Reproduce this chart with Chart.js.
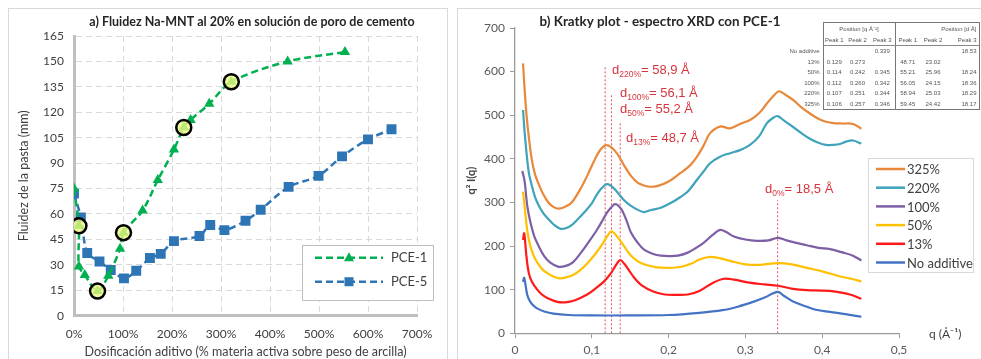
<!DOCTYPE html>
<html lang="es">
<head>
<meta charset="UTF-8">
<title>Fluidez Na-MNT / Kratky plot</title>
<script src="https://cdn.jsdelivr.net/npm/chart.js"></script>
<style>
  body { margin: 0; background: #fff; width: 981px; height: 359px; overflow: hidden; position: relative; font-family: Lato, sans-serif; }
  .panel { position: absolute; border: 1px solid #d9d9d9; box-sizing: border-box; }
  #panelA { left: 8px; top: 8px; width: 440px; height: 352px; }
  #panelB { left: 457px; top: 8px; width: 540px; height: 360px; }
  canvas { position: absolute; }
  #chartA { left: 8px; top: 8px; }
  #chartB { left: 457px; top: 8px; }
  #peaks { position: absolute; left: 781px; top: 22px; border-collapse: collapse; font: 6px "Liberation Sans", Arial, sans-serif; color: #555; table-layout: fixed; }
  #peaks td { padding: 0; height: 10.5px; text-align: center; white-space: nowrap; overflow: hidden; }
  #peaks td.lbl { text-align: right; padding-right: 3px; border: none; }
  #peaks tr.h1 td { height: 12px; }
  #peaks tr.h2 td { height: 10px; border-bottom: 1px solid #888; }
  #peaks td.c1 { border-left: 1.5px solid #777; }
  #peaks td.c4 { border-left: 1.5px solid #777; }
  #peaks td.c6 { border-right: 1.5px solid #777; text-align: right; padding-right: 2px; }
  #peaks tr.h1 td.c1, #peaks tr.h1 td.c4, #peaks tr.h1 td.c6 { border-top: 1.5px solid #777; }
  #peaks tr.last td.c1, #peaks tr.last td.c2, #peaks tr.last td.c3, #peaks tr.last td.c4, #peaks tr.last td.c5, #peaks tr.last td.c6 { border-bottom: 1.5px solid #777; }
</style>
</head>
<body>
<div class="panel" id="panelA"></div>
<div class="panel" id="panelB"></div>
<canvas id="chartA" width="440" height="351"></canvas>
<canvas id="chartB" width="524" height="351"></canvas>
<table id="peaks"></table>

<script>
// ---- a) Fluidez Na-MNT (mm) vs dosificación (%)
const pce1Dose = [0, 10, 10, 22, 48, 70, 94, 101, 140, 171, 204, 224, 238, 276, 321, 436, 553];
const pce1Flow = [75, 53, 29, 24, 14.5, 23.5, 39.5, 49, 62, 80, 98, 111, 115.5, 125, 138, 150, 155.5];
const pce5Dose = [0, 14, 27, 52, 75, 102, 127, 155, 177, 204, 256, 278, 307, 350, 381, 438, 499, 547, 600, 648];
const pce5Flow = [72, 58, 37, 32, 27, 22, 26.5, 34, 36.5, 44, 47, 53.5, 50.5, 56, 62.5, 76, 82.5, 94, 104, 110];
const markedDose = [10, 48, 101, 224, 321];
const markedFlow = [53, 14.5, 49, 111, 138];
const doseTicks = [0, 100, 200, 300, 400, 500, 600, 700];
const flowTicks = [0, 15, 30, 45, 60, 75, 90, 105, 120, 135, 150, 165];

// ---- b) Kratky plot q^2 I(q) vs q
const qNone = [0.0105, 0.012, 0.016, 0.02, 0.025, 0.03, 0.038, 0.05, 0.07, 0.1, 0.15, 0.2, 0.24, 0.27, 0.29, 0.31, 0.325, 0.342, 0.35, 0.362, 0.38, 0.392, 0.41, 0.43, 0.451];
const iNone = [118, 127, 88, 72, 62, 56, 50, 45, 42, 41, 41, 42, 47, 53, 61, 72, 82, 95, 86, 73, 61, 54, 49, 44, 38];
const q13 = [0.0105, 0.012, 0.015, 0.018, 0.022, 0.029, 0.035, 0.042, 0.055, 0.065, 0.075, 0.085, 0.095, 0.105, 0.116, 0.125, 0.131, 0.137, 0.142, 0.147, 0.155, 0.165, 0.18, 0.195, 0.21, 0.225, 0.24, 0.257, 0.272, 0.285, 0.305, 0.325, 0.342, 0.362, 0.38, 0.4, 0.415, 0.436, 0.451];
const i13 = [214, 229, 175, 138, 118, 100, 89, 81, 72, 71, 74, 81, 90, 103, 119, 138, 155, 168, 160, 148, 128, 110, 96, 89, 88, 89, 97, 115, 125, 123, 116, 112, 109, 102, 99, 98, 96, 89, 79];
const q50 = [0.0105, 0.0125, 0.016, 0.02, 0.025, 0.03, 0.036, 0.042, 0.05, 0.058, 0.066, 0.075, 0.085, 0.095, 0.105, 0.112, 0.12, 0.1257, 0.132, 0.14, 0.15, 0.16, 0.17, 0.185, 0.2, 0.215, 0.23, 0.24, 0.253, 0.265, 0.28, 0.3, 0.32, 0.342, 0.36, 0.38, 0.4, 0.42, 0.44, 0.451];
const i50 = [325, 292, 235, 200, 175, 160, 146, 138, 130, 126, 128, 133, 145, 162, 183, 200, 222, 234, 224, 205, 180, 165, 157, 151, 150, 152, 160, 169, 175, 173, 166, 158, 157, 161, 158, 150, 142, 132, 124, 119];
const q100 = [0.0095, 0.0105, 0.0126, 0.016, 0.02, 0.025, 0.03, 0.038, 0.046, 0.056, 0.065, 0.075, 0.086, 0.097, 0.107, 0.115, 0.12, 0.126, 0.13, 0.135, 0.14, 0.146, 0.151, 0.16, 0.168, 0.18, 0.19, 0.2, 0.212, 0.225, 0.235, 0.246, 0.257, 0.267, 0.275, 0.285, 0.3, 0.315, 0.33, 0.342, 0.352, 0.365, 0.38, 0.395, 0.41, 0.425, 0.44, 0.451];
const i100 = [372, 365, 348, 292, 255, 223, 203, 177, 162, 153, 154, 162, 185, 212, 238, 262, 277, 290, 296, 292, 280, 255, 231, 207, 192, 182, 178, 177, 178, 185, 195, 208, 225, 237, 232, 222, 215, 212, 213, 219, 214, 208, 202, 196, 193, 186, 178, 167];
const q220 = [0.0105, 0.0125, 0.0152, 0.018, 0.0217, 0.026, 0.0304, 0.037, 0.0434, 0.05, 0.0586, 0.066, 0.0738, 0.082, 0.09, 0.1, 0.107, 0.113, 0.1196, 0.126, 0.1335, 0.142, 0.151, 0.16, 0.168, 0.176, 0.19, 0.202, 0.215, 0.225, 0.237, 0.246, 0.254, 0.267, 0.28, 0.293, 0.306, 0.318, 0.328, 0.337, 0.342, 0.35, 0.362, 0.372, 0.384, 0.395, 0.405, 0.415, 0.423, 0.432, 0.44, 0.451];
const i220 = [512, 462, 410, 368, 340, 313, 295, 275, 262, 250, 240, 241, 248, 262, 277, 298, 319, 333, 342, 337, 323, 305, 292, 283, 278, 282, 288, 298, 312, 325, 352, 372, 390, 405, 413, 420, 432, 452, 482, 495, 498, 488, 473, 460, 446, 437, 432, 432, 434, 440, 442, 435];
const q325 = [0.0105, 0.0125, 0.0152, 0.018, 0.0217, 0.026, 0.0304, 0.037, 0.0434, 0.05, 0.0564, 0.064, 0.0738, 0.0868, 0.095, 0.103, 0.11, 0.118, 0.125, 0.1335, 0.142, 0.151, 0.16, 0.168, 0.176, 0.186, 0.2, 0.215, 0.228, 0.237, 0.246, 0.254, 0.267, 0.28, 0.293, 0.306, 0.318, 0.328, 0.337, 0.3435, 0.352, 0.362, 0.373, 0.384, 0.395, 0.405, 0.415, 0.427, 0.44, 0.451];
const i325 = [619, 560, 497, 450, 400, 365, 344, 318, 300, 290, 286, 289, 300, 336, 365, 395, 418, 431, 427, 411, 385, 361, 345, 339, 336, 338, 348, 367, 385, 405, 432, 459, 474, 470, 480, 489, 505, 527, 545, 555, 547, 535, 518, 504, 492, 485, 482, 481, 480, 469];
const peakQ = [0.1174, 0.1257, 0.137, 0.342];
const peakTop = [611, 546, 482, 305];
const qTicks = [0, 0.1, 0.2, 0.3, 0.4, 0.5];
const intTicks = [0, 100, 200, 300, 400, 500, 600, 700];

// table values
const peakRows = ['No additive', '13%', '50%', '100%', '220%', '325%'];
const qPeak1 = ['', '0.129', '0.114', '0.112', '0.107', '0.106'];
const qPeak2 = ['', '0.273', '0.242', '0.260', '0.251', '0.257'];
const qPeak3 = ['0.339', '', '0.345', '0.342', '0.344', '0.346'];
const dPeak1 = ['', '48.71', '55.21', '56.05', '58.94', '59.45'];
const dPeak2 = ['', '23.02', '25.96', '24.15', '25.03', '24.42'];
const dPeak3 = ['18.53', '', '18.24', '18.36', '18.29', '18.17'];

const pairs = (xs, ys) => xs.map((x, i) => ({ x: x, y: ys[i] }));
const useTicks = list => scale => { scale.ticks = list.map(v => ({ value: v })); };

const GREEN = '#00b050';
const BLUE = '#2e75b6';

// ---------- chart a ----------
const panelA = {
    id: 'panelA',
    afterDraw(chart) {
        const ctx = chart.ctx;
        ctx.save();
        ctx.fillStyle = '#262626';
        ctx.font = 'bold 12.5px Lato';
        ctx.textAlign = 'center';
        ctx.textBaseline = 'middle';
        ctx.fillText('a) Fluidez Na-MNT al 20% en solución de poro de cemento', 244, 14);

        // legend
        ctx.strokeStyle = '#bfbfbf';
        ctx.lineWidth = 1;
        ctx.fillStyle = '#fff';
        ctx.fillRect(294, 237, 131, 55);
        ctx.strokeRect(294.5, 237.5, 131, 55);
        const items = [['PCE-1', GREEN, 'tri', 249.7], ['PCE-5', BLUE, 'sq', 273.7]];
        items.forEach(([label, col, mk, y]) => {
            ctx.strokeStyle = col;
            ctx.lineWidth = 2.5;
            ctx.setLineDash([7, 4]);
            ctx.beginPath();
            ctx.moveTo(307, y);
            ctx.lineTo(375, y);
            ctx.stroke();
            ctx.setLineDash([]);
            ctx.fillStyle = col;
            ctx.beginPath();
            if (mk === 'tri') {
                ctx.moveTo(341, y - 5.5);
                ctx.lineTo(346, y + 3.5);
                ctx.lineTo(336, y + 3.5);
                ctx.closePath();
            } else {
                ctx.rect(336.5, y - 4.5, 9, 9);
            }
            ctx.fill();
            ctx.fillStyle = '#404040';
            ctx.font = '13px Lato';
            ctx.textAlign = 'left';
            ctx.fillText(label, 383, y);
        });
        ctx.restore();
    }
};

new Chart(document.getElementById('chartA'), {
    type: 'line',
    data: {
        datasets: [{
            label: 'marcados',
            data: pairs(markedDose, markedFlow),
            showLine: false,
            pointStyle: 'circle',
            pointRadius: 7.5,
            pointBorderWidth: 2.5,
            pointBorderColor: '#000',
            pointBackgroundColor: 'rgba(238,248,130,0.78)',
            order: 0
        }, {
            label: 'PCE-1',
            data: pairs(pce1Dose, pce1Flow),
            borderColor: GREEN,
            backgroundColor: GREEN,
            borderWidth: 2.5,
            borderDash: [7, 4],
            pointStyle: 'triangle',
            pointRadius: 6,
            pointBorderWidth: 0,
            tension: 0.3,
            order: 1
        }, {
            label: 'PCE-5',
            data: pairs(pce5Dose, pce5Flow),
            borderColor: BLUE,
            backgroundColor: BLUE,
            borderWidth: 2.5,
            borderDash: [7, 4],
            pointStyle: 'rect',
            pointRadius: 7,
            pointBorderWidth: 0,
            tension: 0.3,
            order: 2
        }]
    },
    options: {
        responsive: false,
        animation: false,
        layout: { padding: { left: 8, top: 28, right: 31, bottom: 0 } },
        plugins: { legend: { display: false }, tooltip: { enabled: false } },
        scales: {
            x: {
                type: 'linear', min: 0, max: 700,
                afterBuildTicks: useTicks(doseTicks),
                afterFit: s => { s.height = 43.3; },
                grid: { color: '#d9d9d9', drawTicks: false },
                border: { color: '#bfbfbf', width: 3, dash: [6, 4] },
                ticks: { padding: 11, color: '#404040', font: { family: 'Lato', size: 12 }, callback: v => v + '%' },
                title: { display: true, text: 'Dosificación aditivo (% materia activa sobre peso de arcilla)', color: '#404040', font: { family: 'Lato', size: 12.5 }, padding: 0 }
            },
            y: {
                min: 0, max: 165,
                afterBuildTicks: useTicks(flowTicks),
                afterFit: s => { s.width = 58; },
                grid: { color: '#d9d9d9', drawTicks: false },
                border: { color: '#bfbfbf', width: 3, dash: [6, 4] },
                ticks: { padding: 10, color: '#404040', font: { family: 'Lato', size: 12 } },
                title: { display: true, text: 'Fluidez de la pasta (mm)', color: '#404040', font: { family: 'Lato', size: 12.5 }, padding: 0 }
            }
        }
    },
    plugins: [panelA]
});

// ---------- chart b ----------
const seriesB = [
    ['325%', '#e8883a', q325, i325],
    ['220%', '#3ea3bb', q220, i220],
    ['100%', '#7d5fa6', q100, i100],
    ['50%', '#ffc000', q50, i50],
    ['13%', '#ff1a1a', q13, i13],
    ['No additive', '#4472c4', qNone, iNone]
];
const RED = '#d8343c';

function drawD(ctx, x, y, sub, rest) {
    ctx.font = '13px "Liberation Sans"';
    ctx.fillText('d', x, y);
    const w1 = ctx.measureText('d').width;
    ctx.font = '8.5px "Liberation Sans"';
    ctx.fillText(sub, x + w1, y + 3);
    const w2 = ctx.measureText(sub).width;
    ctx.font = '13px "Liberation Sans"';
    ctx.fillText(rest, x + w1 + w2, y);
}

const panelB = {
    id: 'panelB',
    afterDraw(chart) {
        const ctx = chart.ctx;
        ctx.save();
        ctx.fillStyle = '#262626';
        ctx.font = 'bold 13.4px Lato';
        ctx.textAlign = 'center';
        ctx.textBaseline = 'middle';
        ctx.fillText('b) Kratky plot - espectro XRD con PCE-1', 203, 14);

        ctx.fillStyle = '#404040';
        ctx.font = '12px Lato';
        ctx.textAlign = 'left';
        ctx.fillText('q (Å⁻¹)', 472, 326);

        ctx.textBaseline = 'alphabetic';
        ctx.fillStyle = RED;
        drawD(ctx, 155, 66, '220%', '= 58,9 Å');
        drawD(ctx, 163, 89, '100%', '= 56,1 Å');
        drawD(ctx, 163, 105, '50%', '= 55,2 Å');
        drawD(ctx, 169, 133.5, '13%', '= 48,7 Å');
        drawD(ctx, 308, 184.5, '0%', '= 18,5 Å');

        // legend
        ctx.fillStyle = '#fff';
        ctx.fillRect(411, 150, 105, 114);
        ctx.strokeStyle = '#d9d9d9';
        ctx.lineWidth = 1;
        ctx.strokeRect(411.5, 150.5, 105, 114);
        ctx.textBaseline = 'middle';
        ctx.font = '13px Lato';
        seriesB.forEach(([label, col], k) => {
            const y = 161 + k * 18.7;
            ctx.strokeStyle = col;
            ctx.lineWidth = 2.5;
            ctx.beginPath();
            ctx.moveTo(419, y);
            ctx.lineTo(448, y);
            ctx.stroke();
            ctx.fillStyle = '#404040';
            ctx.fillText(label, 450, y + 1);
        });
        ctx.restore();
    }
};

const datasetsB = seriesB.map(([label, col, qs, vals]) => ({
    label: label,
    data: pairs(qs, vals),
    borderColor: col,
    borderWidth: 2.2,
    pointRadius: 0,
    tension: 0.35
}));
peakQ.forEach((q, k) => {
    datasetsB.push({
        label: 'pico' + k,
        data: [{ x: q, y: 0 }, { x: q, y: peakTop[k] }],
        borderColor: '#e0505a',
        borderWidth: 1,
        borderDash: [2, 2],
        pointRadius: 0,
        tension: 0
    });
});

new Chart(document.getElementById('chartB'), {
    type: 'line',
    data: { datasets: datasetsB },
    options: {
        responsive: false,
        animation: false,
        layout: { padding: { left: 8, top: 20, right: 82, bottom: 0 } },
        plugins: { legend: { display: false }, tooltip: { enabled: false } },
        scales: {
            x: {
                type: 'linear', min: 0, max: 0.5,
                afterBuildTicks: useTicks(qTicks),
                afterFit: s => { s.height = 25.7; },
                grid: { drawOnChartArea: false, drawTicks: true, tickLength: 5, color: '#9a9a9a' },
                border: { color: '#9a9a9a', width: 1.3 },
                ticks: { padding: 5, color: '#595959', font: { family: 'Lato', size: 12 },
                    callback: v => (Math.round(v * 10) / 10).toString().replace('.', ',') }
            },
            y: {
                min: 0, max: 700,
                afterBuildTicks: useTicks(intTicks),
                afterFit: s => { s.width = 50; },
                grid: { drawOnChartArea: false, drawTicks: true, tickLength: 5, color: '#9a9a9a' },
                border: { color: '#9a9a9a', width: 1.3 },
                ticks: { padding: 5, color: '#595959', font: { family: 'Lato', size: 12 } },
                title: { display: true, text: 'q² I(q)', color: '#404040', font: { family: 'Lato', size: 11, weight: 'bold' }, padding: 0 }
            }
        }
    },
    plugins: [panelB]
});

// ---------- peak table ----------
const tbl = document.getElementById('peaks');
const colW = [42, 22, 25, 25, 25, 26, 33];
let html = '<colgroup>' + colW.map(w => '<col style="width:' + w + 'px">').join('') + '</colgroup>';
html += '<tr class="h1"><td class="lbl"></td><td class="c1" colspan="3">Position [q Å⁻¹]</td><td class="c4 c6" colspan="3">Position [d Å]</td></tr>';
html += '<tr class="h2"><td class="lbl" style="border:none"></td><td class="c1">Peak 1</td><td class="c2">Peak 2</td><td class="c3">Peak 3</td><td class="c4">Peak 1</td><td class="c5">Peak 2</td><td class="c6">Peak 3</td></tr>';
peakRows.forEach((r, i) => {
    const cls = i === peakRows.length - 1 ? ' class="last"' : '';
    html += '<tr' + cls + '><td class="lbl">' + r + '</td><td class="c1">' + qPeak1[i] + '</td><td class="c2">' + qPeak2[i] +
        '</td><td class="c3">' + qPeak3[i] + '</td><td class="c4">' + dPeak1[i] + '</td><td class="c5">' + dPeak2[i] +
        '</td><td class="c6">' + dPeak3[i] + '</td></tr>';
});
tbl.innerHTML = html;
</script>
</body>
</html>
